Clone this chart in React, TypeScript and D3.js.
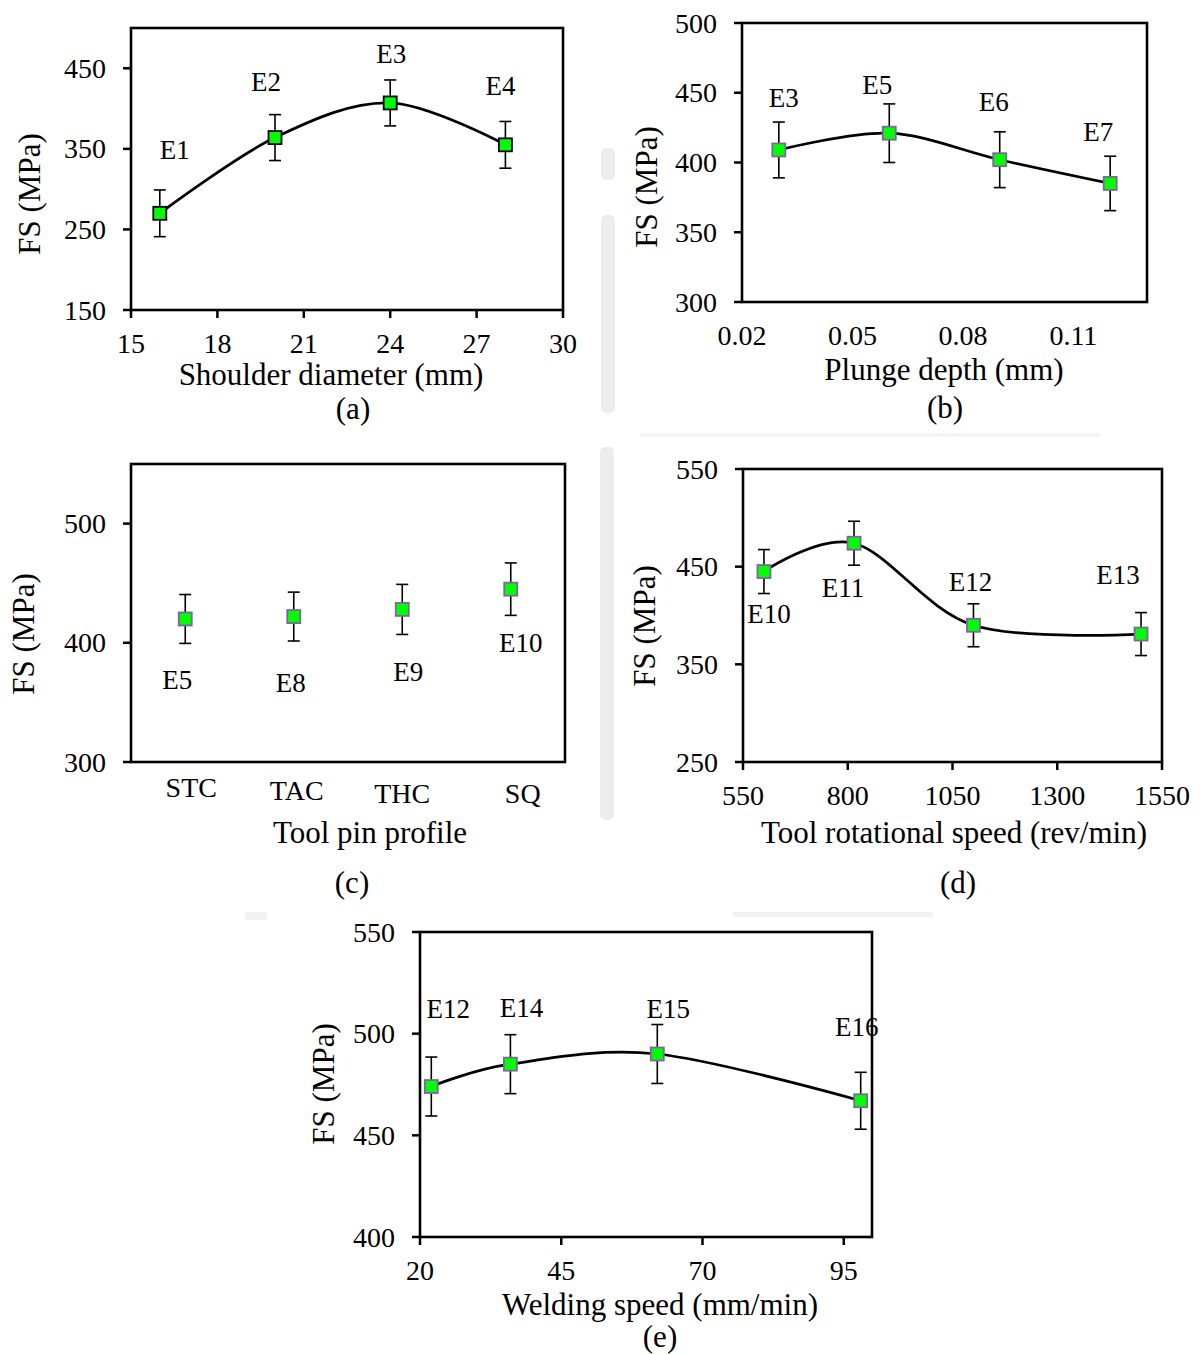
import React from "react";
import * as d3 from "d3";

const FONT = '"Liberation Serif", "Times New Roman", Times, serif';

// ---- (a) shoulder diameter ----
const shoulderDiameter = [16, 20, 24, 28];
const fsShoulder = [270, 364, 407, 355];
const errShoulder = [29, 28.5, 28.5, 29];
const expShoulder = ["E1", "E2", "E3", "E4"];
const ticksShoulderX = [15, 18, 21, 24, 27, 30];
const ticksShoulderY = [150, 250, 350, 450];

// ---- (b) plunge depth ----
const plungeDepth = [0.03, 0.06, 0.09, 0.12];
const fsPlunge = [409, 421, 402, 385];
const errPlunge = [20, 21, 20, 19.5];
const expPlunge = ["E3", "E5", "E6", "E7"];
const ticksPlungeX = [0.02, 0.05, 0.08, 0.11];
const ticksPlungeY = [300, 350, 400, 450, 500];

// ---- (c) tool pin profile ----
const pinProfile = ["STC", "TAC", "THC", "SQ"];
const fsPin = [420, 422, 428, 445];
const errPin = [20.5, 20.5, 21, 22];
const expPin = ["E5", "E8", "E9", "E10"];
const ticksPinY = [300, 400, 500];

// ---- (d) tool rotational speed ----
const rotSpeed = [600, 815, 1100, 1500];
const fsRot = [445, 474, 390, 381];
const errRot = [22.5, 22.5, 22, 22];
const expRot = ["E10", "E11", "E12", "E13"];
const ticksRotX = [550, 800, 1050, 1300, 1550];
const ticksRotY = [250, 350, 450, 550];

// ---- (e) welding speed ----
const weldSpeed = [22, 36, 62, 98];
const fsWeld = [474, 485, 490, 467];
const errWeld = [14.5, 14.5, 14.5, 14];
const expWeld = ["E12", "E14", "E15", "E16"];
const ticksWeldX = [20, 45, 70, 95];
const ticksWeldY = [400, 450, 500, 550];

type Spec = {
  xs: any[];
  ys: number[];
  err: number[];
  names: string[];
  xDomain?: [number, number];
  yDomain: [number, number];
  xTicks?: number[];
  yTicks: number[];
  xFmt?: (d: number) => string;
  box: [number, number, number, number];
  xTickMarks: boolean;
  smooth: boolean;
  markerStroke: string;
  nameOff: [number, number][];
  catOff?: [number, number][];
  xTitle: string;
  xTitlePos: [number, number];
  yTitlePos: [number, number];
  tag: string;
  tagPos: [number, number];
};

const specs: Spec[] = [
  {
    xs: shoulderDiameter, ys: fsShoulder, err: errShoulder, names: expShoulder,
    xDomain: [15, 30], yDomain: [150, 500], xTicks: ticksShoulderX, yTicks: ticksShoulderY,
    box: [131, 28, 563, 310], xTickMarks: true, smooth: true, markerStroke: "#000",
    nameOff: [[15, -54], [-9, -47], [1, -40], [-5, -50]],
    xTitle: "Shoulder diameter (mm)", xTitlePos: [331, 385], yTitlePos: [40, 194],
    tag: "(a)", tagPos: [353, 419],
  },
  {
    xs: plungeDepth, ys: fsPlunge, err: errPlunge, names: expPlunge,
    xDomain: [0.02, 0.13], yDomain: [300, 500], xTicks: ticksPlungeX, yTicks: ticksPlungeY,
    xFmt: d3.format(".2f"),
    box: [742, 23, 1147, 302], xTickMarks: false, smooth: true, markerStroke: "#8064a2",
    nameOff: [[5, -43], [-12, -39], [-6, -49], [-12, -42]],
    xTitle: "Plunge depth (mm)", xTitlePos: [944, 380], yTitlePos: [657, 187],
    tag: "(b)", tagPos: [945, 418],
  },
  {
    xs: pinProfile, ys: fsPin, err: errPin, names: expPin,
    yDomain: [300, 550], yTicks: ticksPinY,
    box: [131, 464, 565, 762], xTickMarks: false, smooth: false, markerStroke: "#8064a2",
    nameOff: [[-8, 70], [-3, 75], [6, 72], [10, 63]],
    catOff: [[6, 35], [3, 38], [0, 41], [12, 41]],
    xTitle: "Tool pin profile", xTitlePos: [370, 843], yTitlePos: [34, 634],
    tag: "(c)", tagPos: [352, 893],
  },
  {
    xs: rotSpeed, ys: fsRot, err: errRot, names: expRot,
    xDomain: [550, 1550], yDomain: [250, 550], xTicks: ticksRotX, yTicks: ticksRotY,
    box: [743, 469, 1162, 762], xTickMarks: true, smooth: true, markerStroke: "#8064a2",
    nameOff: [[5, 51], [-11, 54], [-3, -34], [-23, -50]],
    xTitle: "Tool rotational speed (rev/min)", xTitlePos: [954, 843], yTitlePos: [655, 626],
    tag: "(d)", tagPos: [958, 893],
  },
  {
    xs: weldSpeed, ys: fsWeld, err: errWeld, names: expWeld,
    xDomain: [20, 100], yDomain: [400, 550], xTicks: ticksWeldX, yTicks: ticksWeldY,
    box: [420, 932, 872, 1237], xTickMarks: true, smooth: true, markerStroke: "#8064a2",
    nameOff: [[17, -69], [11, -47], [11, -36], [-4, -65]],
    xTitle: "Welding speed (mm/min)", xTitlePos: [660, 1315], yTitlePos: [334, 1084],
    tag: "(e)", tagPos: [660, 1347],
  },
];

function Panel({ s }: { s: Spec }) {
  const [l, t, r, b] = s.box;
  const y = d3.scaleLinear().domain(s.yDomain).range([b, t]);
  const isBand = typeof s.xs[0] === "string";
  const xb = d3.scaleBand<string>().domain(isBand ? s.xs : []).range([l, r]);
  const xl = d3.scaleLinear().domain(s.xDomain || [0, 1]).range([l, r]);
  const px = (i: number) => (isBand ? (xb(s.xs[i]) as number) + xb.bandwidth() / 2 : xl(s.xs[i]));
  const pts: [number, number][] = s.ys.map((v, i) => [px(i), y(v)]);
  const line = d3.line().curve(d3.curveCardinal.tension(0));
  const fmt = s.xFmt || ((d: number) => String(d));
  const tick = 8;

  return (
    <g fontFamily={FONT} fill="#000">
      {/* y ticks + labels */}
      {s.yTicks.map((v) => (
        <g key={"y" + v}>
          <line x1={l - tick} x2={l} y1={y(v)} y2={y(v)} stroke="#000" strokeWidth={2.5} />
          <text x={l - 25} y={y(v)} dy="0.34em" textAnchor="end" fontSize={28}>{v}</text>
        </g>
      ))}
      {/* x ticks + labels */}
      {!isBand && s.xTicks!.map((v) => (
        <g key={"x" + v}>
          {s.xTickMarks && (
            <line x1={xl(v)} x2={xl(v)} y1={b} y2={b + tick} stroke="#000" strokeWidth={2.5} />
          )}
          <text x={xl(v)} y={b + 43} textAnchor="middle" fontSize={28}>{fmt(v)}</text>
        </g>
      ))}
      {isBand && s.xs.map((c: string, i: number) => (
        <text key={c} x={px(i) + s.catOff![i][0]} y={b + s.catOff![i][1]} textAnchor="middle" fontSize={28}>{c}</text>
      ))}
      {/* plot frame */}
      <rect x={l} y={t} width={r - l} height={b - t} fill="none" stroke="#000" strokeWidth={2.6} />
      {/* smoothed line */}
      {s.smooth && <path d={line(pts) || ""} fill="none" stroke="#000" strokeWidth={2.7} />}
      {/* error bars */}
      {s.ys.map((v, i) => (
        <g key={"e" + i} stroke="#000" strokeWidth={1.6}>
          <line x1={px(i)} x2={px(i)} y1={y(v + s.err[i])} y2={y(v - s.err[i])} />
          <line x1={px(i) - 6} x2={px(i) + 6} y1={y(v + s.err[i])} y2={y(v + s.err[i])} />
          <line x1={px(i) - 6} x2={px(i) + 6} y1={y(v - s.err[i])} y2={y(v - s.err[i])} />
        </g>
      ))}
      {/* markers */}
      {pts.map(([cx, cy], i) => (
        <rect key={"m" + i} x={cx - 6.5} y={cy - 6.5} width={13} height={13}
          fill="#00ff00" stroke={s.markerStroke} strokeWidth={1.8} />
      ))}
      {/* experiment names */}
      {s.names.map((n, i) => (
        <text key={"n" + i} x={pts[i][0] + s.nameOff[i][0]} y={pts[i][1] + s.nameOff[i][1]}
          textAnchor="middle" fontSize={27}>{n}</text>
      ))}
      {/* titles */}
      <text x={s.xTitlePos[0]} y={s.xTitlePos[1]} textAnchor="middle" fontSize={31}>{s.xTitle}</text>
      <text transform={`translate(${s.yTitlePos[0]},${s.yTitlePos[1]}) rotate(-90)`} textAnchor="middle" fontSize={31}>FS (MPa)</text>
      <text x={s.tagPos[0]} y={s.tagPos[1]} textAnchor="middle" fontSize={31}>{s.tag}</text>
    </g>
  );
}

export default function App() {
  return (
    <svg width={1202} height={1354} style={{ position: "absolute", left: 0, top: 0, background: "#fff" }}>
      <rect x={0} y={0} width={1202} height={1354} fill="#fff" />
      {/* faint scan artefacts between the panels */}
      <g fill="#ededed">
        <rect x={601} y={148} width={14} height={32} rx={5} />
        <rect x={601} y={215} width={14} height={198} rx={5} />
        <rect x={600} y={447} width={14} height={373} rx={5} />
        <rect x={640} y={433} width={460} height={4} opacity={0.6} />
        <rect x={733} y={912} width={200} height={5} opacity={0.7} />
        <rect x={245} y={912} width={22} height={8} opacity={0.7} />
      </g>
      {specs.map((s) => <Panel key={s.tag} s={s} />)}
    </svg>
  );
}
